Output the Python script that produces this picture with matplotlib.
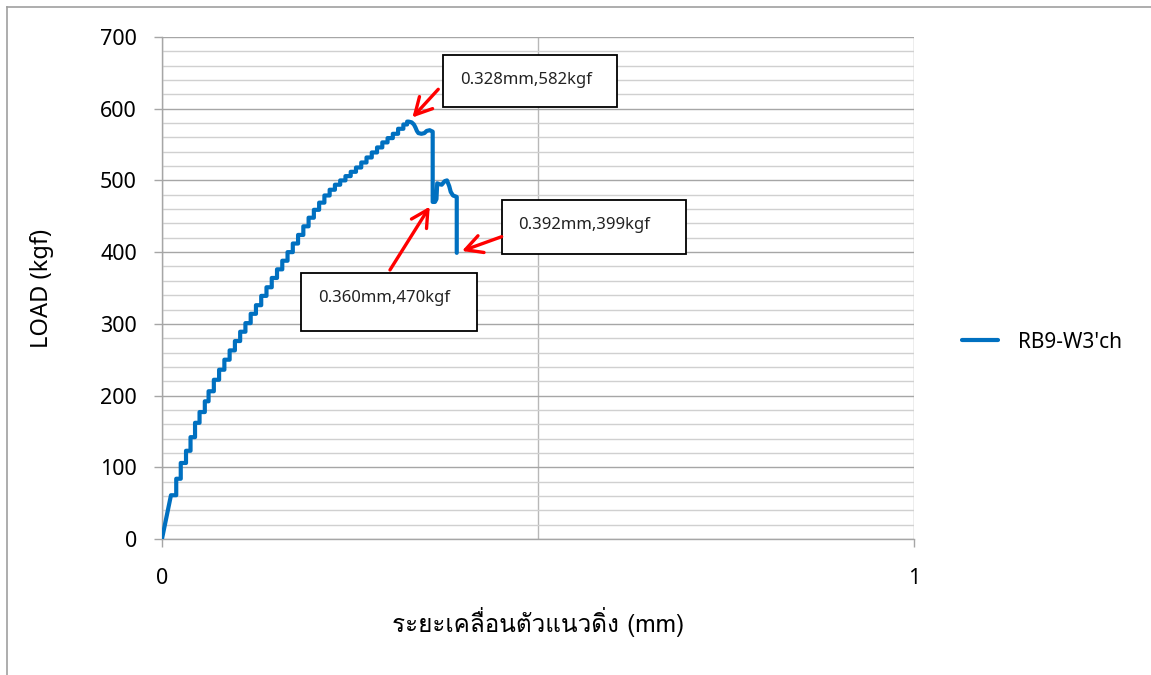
import matplotlib
matplotlib.use("Agg")
import matplotlib.pyplot as plt
from matplotlib import font_manager
from matplotlib.ft2font import FT2Font
from matplotlib.lines import Line2D
from matplotlib.patches import Rectangle

# load-displacement readings (mm, kgf)
disp_mm = [
    0.000, 0.012,
    0.019, 0.019, 0.025, 0.025, 0.032, 0.032, 0.038, 0.038, 0.044, 0.044,
    0.050, 0.050, 0.057, 0.057, 0.062, 0.062, 0.069, 0.069,
    0.076, 0.076, 0.083, 0.083, 0.090, 0.090, 0.097, 0.097, 0.104, 0.104,
    0.111, 0.111, 0.118, 0.118, 0.125, 0.125, 0.132, 0.132, 0.139, 0.139,
    0.146, 0.146, 0.153, 0.153, 0.160, 0.160, 0.167, 0.167, 0.174, 0.174,
    0.181, 0.181, 0.188, 0.188, 0.195, 0.195, 0.202, 0.202, 0.209, 0.209,
    0.216, 0.216, 0.223, 0.223, 0.230, 0.230, 0.237, 0.237, 0.244, 0.244,
    0.251, 0.251, 0.258, 0.258, 0.265, 0.265, 0.272, 0.272, 0.279, 0.279,
    0.286, 0.286, 0.293, 0.293, 0.300, 0.300, 0.307, 0.307, 0.314, 0.314,
    0.321, 0.321, 0.326, 0.326,
    0.328, 0.332, 0.335, 0.337, 0.339, 0.341, 0.345, 0.349, 0.352, 0.356,
    0.360, 0.360, 0.363, 0.365, 0.366, 0.368, 0.372, 0.376, 0.379, 0.382,
    0.384, 0.387, 0.392, 0.392,
]
load_kgf = [
    0, 61,
    61, 84, 84, 106, 106, 123, 123, 142, 142, 162,
    162, 177, 177, 192, 192, 206, 206, 222,
    222, 236, 236, 250, 250, 263, 263, 276, 276, 289,
    289, 301, 301, 314, 314, 326, 326, 339, 339, 351,
    351, 364, 364, 376, 376, 388, 388, 400, 400, 412,
    412, 424, 424, 436, 436, 448, 448, 459, 459, 469,
    469, 479, 479, 487, 487, 494, 494, 500, 500, 506,
    506, 512, 512, 518, 518, 525, 525, 532, 532, 539,
    539, 546, 546, 553, 553, 559, 559, 565, 565, 572,
    572, 578, 578, 582,
    582, 581, 578, 574, 569, 566, 565, 566, 569, 570,
    568, 470, 470, 474, 496, 495, 494, 499, 500, 492,
    484, 479, 477, 399,
]

# key points called out on the curve
note_disp = [0.328, 0.360, 0.392]
note_load = [582, 470, 399]

series_name = "RB9-W3'ch"
x_label = "ระยะเคลื่อนตัวแนวดิ่ง (mm)"
y_label = "LOAD (kgf)"


def thai_font():
    # pick any installed font that has Thai glyphs
    for f in font_manager.fontManager.ttflist:
        try:
            cmap = FT2Font(f.fname).get_charmap()
        except Exception:
            continue
        if 0x0E23 in cmap and 0x0E48 in cmap:
            return f.name
    return None


plt.rcParams['font.family'] = ['Noto Sans', 'DejaVu Sans']
th = thai_font()
label_family = [th, 'Noto Sans', 'DejaVu Sans'] if th else ['Noto Sans', 'DejaVu Sans']

fig = plt.figure(figsize=(11.51, 6.75), dpi=100)
ax = fig.add_axes([0.1407, 0.2015, 0.6534, 0.7437])

blue = '#0070C0'
ax.plot(disp_mm, load_kgf, color=blue, lw=3.0, solid_joinstyle='round',
        solid_capstyle='round', label=series_name, zorder=3)

ax.set_xlim(0, 1)
ax.set_ylim(0, 700)
ax.set_xticks([0, 1])
ax.set_xticks([0.5], minor=True)
ax.set_yticks(range(0, 701, 100))
ax.set_yticks(range(0, 701, 20), minor=True)

ax.grid(which='major', color='#a6a6a6', lw=1.0)
ax.yaxis.grid(which='minor', color='#d0d0d0', lw=1.0)
ax.xaxis.grid(which='minor', color='#b8b8b8', lw=1.0)
ax.set_axisbelow(True)
for s in ['top', 'right']:
    ax.spines[s].set_visible(False)
for s in ['left', 'bottom']:
    ax.spines[s].set_color('#a6a6a6')
    ax.spines[s].set_linewidth(1.0)

ax.tick_params(axis='both', which='major', labelsize=15.5, color='#a6a6a6',
               length=6, width=1.0)
ax.tick_params(axis='x', which='major', pad=15)
ax.tick_params(axis='y', which='major', pad=12)
ax.tick_params(axis='both', which='minor', length=0)

ax.set_xlabel(x_label, fontsize=17.5, family=label_family, labelpad=13)
ax.set_ylabel(y_label, fontsize=17, labelpad=33)

# callout boxes and arrows
boxes = [
    (0.3737, 0.8606, 0.2313, 0.1035, 0.3963, 0.9143),
    (0.1848, 0.4143, 0.2341, 0.1156, 0.2074, 0.4801),
    (0.4521, 0.5677, 0.2447, 0.1076, 0.4734, 0.6255),
]
tails = [(0.3674, 0.8958), (0.3032, 0.5359), (0.4517, 0.6022)]
for (bx, by, bw, bh, tx, ty), tail, xv, yv in zip(boxes, tails, note_disp, note_load):
    ax.add_patch(Rectangle((bx, by), bw, bh, transform=ax.transAxes,
                           facecolor='white', edgecolor='black', lw=1.3,
                           zorder=5, clip_on=False))
    ax.text(tx, ty, f"{xv:.3f}mm,{yv}kgf", transform=ax.transAxes,
            fontsize=12, color='#222222', va='center', ha='left', zorder=6)
    ax.annotate('', xy=(xv, yv), xycoords='data', xytext=tail,
                textcoords='axes fraction',
                arrowprops=dict(arrowstyle='->,head_length=0.6,head_width=0.32',
                                color='#ff0000', lw=2.4, shrinkA=0, shrinkB=4,
                                mutation_scale=20),
                zorder=7)

ax.legend(loc='center left', bbox_to_anchor=(1.039, 0.392), frameon=False,
          fontsize=15, handlelength=1.7, handletextpad=1.0)

# chart area border
fig.add_artist(Line2D([7 / 1151, 7 / 1151], [0, 1 - 7 / 675],
                      transform=fig.transFigure, color='#a0a0a0', lw=1.2))
fig.add_artist(Line2D([7 / 1151, 1], [1 - 7 / 675, 1 - 7 / 675],
                      transform=fig.transFigure, color='#a0a0a0', lw=1.2))

fig.savefig('out.png', dpi=100, facecolor='white')
